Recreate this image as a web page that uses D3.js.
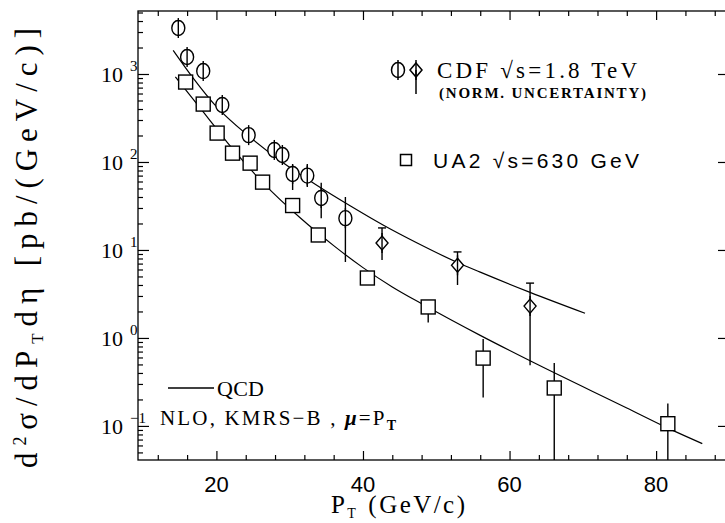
<!DOCTYPE html>
<html>
<head>
<meta charset="utf-8">
<script src="https://cdn.jsdelivr.net/npm/d3@7"></script>
<style>
  body { margin: 0; background: #fff; }
  svg { display: block; }
</style>
</head>
<body>
<div id="chart"></div>
<script>
// CDF points (GeV/c, pb/(GeV/c))
const cdfPt    = [14.8, 16.0, 18.2, 20.8, 24.4, 27.9, 29.0, 30.4, 32.4, 34.3, 37.6, 42.6, 52.9, 62.8];
const cdfVal   = [3330, 1560, 1080, 445, 202, 137, 120, 73, 70, 39, 23, 12, 6.7, 2.3];
const cdfHi    = [4000, 1880, 1300, 530, 240, 162, 143, 93, 95, 58, 40, 17.8, 9.5, 4.2];
const cdfLo    = [2750, 1290, 890, 370, 168, 115, 100, 48, 52, 23, 7.3, 7.7, 4.0, 0.49];
const cdfShape = ["circle", "circle", "circle", "circle", "circle", "circle", "circle",
                  "circle", "circle", "circle", "circle", "diamond", "diamond", "diamond"];

// UA2 points
const ua2Pt  = [15.8, 18.2, 20.1, 22.2, 24.6, 26.3, 30.4, 33.9, 40.6, 48.9, 56.4, 66.1, 81.6];
const ua2Val = [810, 455, 213, 126, 97, 59, 32, 14.8, 4.8, 2.25, 0.59, 0.27, 0.106];
const ua2Hi  = [900, 500, 235, 140, 107, 65, 35, 16.5, 5.3, 2.7, 0.97, 0.52, 0.18];
const ua2Lo  = [730, 410, 193, 114, 88, 53, 29, 13.4, 4.3, 1.5, 0.21, 0.01, 0.01];

// QCD NLO curves
const qcdCdfPt  = [14.1, 16.7, 20.1, 24.6, 29.1, 33.8, 38.3, 42.8, 47.4, 52.9, 56.0, 62.8, 70.3];
const qcdCdfVal = [1860, 930, 417, 191, 98, 53.7, 31.6, 19.1, 12.0, 7.2, 5.6, 3.3, 1.91];
const qcdUa2Pt  = [14.4, 18.2, 21.9, 26.4, 31.5, 36.0, 40.0, 44.0, 48.2, 56.0, 62.8, 76.0, 81.9, 86.3];
const qcdUa2Val = [930, 372, 151, 57.5, 22.9, 11.2, 6.3, 3.8, 2.4, 1.07, 0.55, 0.16, 0.092, 0.063];

const xMajor = [20, 40, 60, 80];
const yMajor = [0.1, 1, 10, 100, 1000];
const yExp   = ["\u22121", "0", "1", "2", "3"];

const width = 725, height = 523;
const frame = {left: 138, right: 725, top: 11, bottom: 460};

const svg = d3.select("#chart").append("svg")
    .attr("width", width)
    .attr("height", height)
    .attr("viewBox", [0, 0, width, height]);

const x = d3.scaleLinear().domain([9.3, 89.4]).range([frame.left, frame.right]);
const y = d3.scaleLog().domain([0.041, 5200]).range([frame.bottom, frame.top]);

const serif = "'Liberation Serif', 'Times New Roman', serif";
const sans = "'Liberation Sans', Arial, sans-serif";

svg.append("defs").append("clipPath").attr("id", "plot")
    .append("rect").attr("x", frame.left).attr("y", frame.top)
    .attr("width", frame.right - frame.left).attr("height", frame.bottom - frame.top);

// frame (right edge falls just outside the picture)
svg.append("rect")
    .attr("x", frame.left).attr("y", frame.top)
    .attr("width", frame.right + 3 - frame.left).attr("height", frame.bottom - frame.top)
    .attr("fill", "none").attr("stroke", "#000").attr("stroke-width", 1.3);

// minor tick values
const xMinor = d3.range(12, 89, 4).filter(v => !xMajor.includes(v));
const yMinor = [];
for (let e = -2; e <= 3; e++)
  for (let m = 2; m <= 9; m++) {
    const v = m * Math.pow(10, e);
    if (v > 0.041 && v < 5200) yMinor.push(v);
  }

function ticks(axis, values, size) {
  return axis.tickValues(values).tickSize(size).tickFormat("");
}

const gAxes = svg.append("g").attr("stroke-width", 1.2);
gAxes.append("g").attr("transform", `translate(0,${frame.bottom})`).call(ticks(d3.axisBottom(x), xMajor, -9));
gAxes.append("g").attr("transform", `translate(0,${frame.bottom})`).call(ticks(d3.axisBottom(x), xMinor, -5));
gAxes.append("g").attr("transform", `translate(0,${frame.top})`).call(ticks(d3.axisTop(x), xMajor, -9));
gAxes.append("g").attr("transform", `translate(0,${frame.top})`).call(ticks(d3.axisTop(x), xMinor, -5));
gAxes.append("g").attr("transform", `translate(${frame.left},0)`).call(ticks(d3.axisLeft(y), yMajor, -11));
gAxes.append("g").attr("transform", `translate(${frame.left},0)`).call(ticks(d3.axisLeft(y), yMinor, -5));
gAxes.append("g").attr("transform", `translate(${frame.right},0)`).call(ticks(d3.axisRight(y), yMajor, -7));
gAxes.selectAll(".domain").remove();

// x tick labels
svg.append("g").selectAll("text")
  .data(xMajor).join("text")
    .attr("x", d => x(d)).attr("y", 492)
    .attr("text-anchor", "middle")
    .attr("font-family", sans).attr("font-size", 22)
    .text(d => d);

// y tick labels: 10 with raised exponent
const yl = svg.append("g").attr("font-family", serif).attr("font-size", 22);
yl.selectAll("text")
  .data(yMajor).join("text")
    .attr("x", 101).attr("y", d => y(d) + 8)
    .call(t => t.append("tspan").text("10"))
    .call(t => t.append("tspan")
        .attr("dx", 7).attr("dy", -11).attr("font-size", 15)
        .text((d, i) => yExp[i]));

// axis titles
svg.append("text")
    .attr("transform", "translate(37,248) rotate(-90)")
    .attr("text-anchor", "middle")
    .attr("font-family", serif).attr("font-size", 31)
    .attr("textLength", 440).attr("lengthAdjust", "spacing")
    .call(t => t.append("tspan").text("d"))
    .call(t => t.append("tspan").attr("dy", -11).attr("font-size", 18).text("2"))
    .call(t => t.append("tspan").attr("dy", 11).text("\u03c3/dP"))
    .call(t => t.append("tspan").attr("dy", 6).attr("font-size", 17).text("T"))
    .call(t => t.append("tspan").attr("dy", -6).text("d\u03b7 [pb/(GeV/c)]"));

svg.append("text")
    .attr("x", 331).attr("y", 513)
    .attr("font-family", serif).attr("font-size", 25)
    .attr("textLength", 134).attr("lengthAdjust", "spacing")
    .call(t => t.append("tspan").text("P"))
    .call(t => t.append("tspan").attr("dy", 5).attr("font-size", 14).text("T"))
    .call(t => t.append("tspan").attr("dy", -5).attr("dx", 10).text("(GeV/c)"));

// QCD curves
const plot = svg.append("g").attr("clip-path", "url(#plot)");
const line = d3.line().x(d => x(d[0])).y(d => y(d[1])).curve(d3.curveMonotoneX);
plot.append("path")
    .attr("d", line(d3.zip(qcdCdfPt, qcdCdfVal)))
    .attr("fill", "none").attr("stroke", "#000").attr("stroke-width", 1.2);
plot.append("path")
    .attr("d", line(d3.zip(qcdUa2Pt, qcdUa2Val)))
    .attr("fill", "none").attr("stroke", "#000").attr("stroke-width", 1.2);

// markers
function phi(g, cx, cy) {
  g.append("ellipse").attr("cx", cx).attr("cy", cy).attr("rx", 6.5).attr("ry", 7.5);
  g.append("line").attr("x1", cx).attr("x2", cx).attr("y1", cy - 10).attr("y2", cy + 10);
}
function diamond(g, cx, cy) {
  g.append("path").attr("d", `M${cx},${cy - 7}L${cx + 6},${cy}L${cx},${cy + 7}L${cx - 6},${cy}Z`);
  g.append("line").attr("x1", cx).attr("x2", cx).attr("y1", cy - 10).attr("y2", cy + 10);
}
function square(g, cx, cy, s) {
  g.append("rect").attr("x", cx - s / 2).attr("y", cy - s / 2).attr("width", s).attr("height", s);
}

const marks = plot.append("g")
    .attr("fill", "#fff").attr("stroke", "#000").attr("stroke-width", 1.4);

// UA2 error bars + squares
ua2Pt.forEach((p, i) => {
  marks.append("line")
      .attr("x1", x(p)).attr("x2", x(p))
      .attr("y1", y(ua2Hi[i])).attr("y2", y(ua2Lo[i]));
  square(marks, x(p), y(ua2Val[i]), 14);
});

// CDF error bars + circles / diamonds
cdfPt.forEach((p, i) => {
  const cx = x(p), cy = y(cdfVal[i]);
  marks.append("line")
      .attr("x1", cx).attr("x2", cx)
      .attr("y1", y(cdfHi[i])).attr("y2", y(cdfLo[i]));
  if (cdfShape[i] === "circle") phi(marks, cx, cy);
  else {
    marks.append("line")
        .attr("x1", cx - 4).attr("x2", cx + 4)
        .attr("y1", y(cdfHi[i])).attr("y2", y(cdfHi[i]));
    diamond(marks, cx, cy);
  }
});

// legend, top right
const lg = svg.append("g").attr("fill", "none").attr("stroke", "#000").attr("stroke-width", 1.5);
phi(lg, 398, 70);
diamond(lg, 416, 70);
lg.append("line").attr("x1", 416).attr("x2", 416).attr("y1", 70).attr("y2", 94);
square(lg, 406, 160, 11);

svg.append("text")
    .attr("x", 437).attr("y", 78)
    .attr("font-family", serif).attr("font-size", 23)
    .attr("textLength", 200).attr("lengthAdjust", "spacing")
    .text("CDF \u221as=1.8 TeV");
svg.append("text")
    .attr("x", 439).attr("y", 98)
    .attr("font-family", serif).attr("font-size", 15).attr("font-weight", "bold")
    .attr("textLength", 207).attr("lengthAdjust", "spacing")
    .text("(NORM. UNCERTAINTY)");
svg.append("text")
    .attr("x", 433).attr("y", 168)
    .attr("font-family", sans).attr("font-size", 21)
    .attr("textLength", 206).attr("lengthAdjust", "spacing")
    .text("UA2 \u221as=630 GeV");

// legend, bottom left
svg.append("line")
    .attr("x1", 168).attr("x2", 214).attr("y1", 388).attr("y2", 388)
    .attr("stroke", "#000").attr("stroke-width", 1.5);
svg.append("text")
    .attr("x", 217).attr("y", 396)
    .attr("font-family", serif).attr("font-size", 22)
    .attr("textLength", 47).attr("lengthAdjust", "spacing")
    .text("QCD");
svg.append("text")
    .attr("x", 160).attr("y", 425)
    .attr("font-family", serif).attr("font-size", 21)
    .attr("textLength", 236).attr("lengthAdjust", "spacing")
    .call(t => t.append("tspan").text("NLO, KMRS\u2212B , "))
    .call(t => t.append("tspan").attr("font-style", "italic").attr("font-weight", "bold").text("\u03bc"))
    .call(t => t.append("tspan").text("=P"))
    .call(t => t.append("tspan").attr("dy", 5).attr("font-size", 14).attr("font-weight", "bold").text("T"));
</script>
</body>
</html>
